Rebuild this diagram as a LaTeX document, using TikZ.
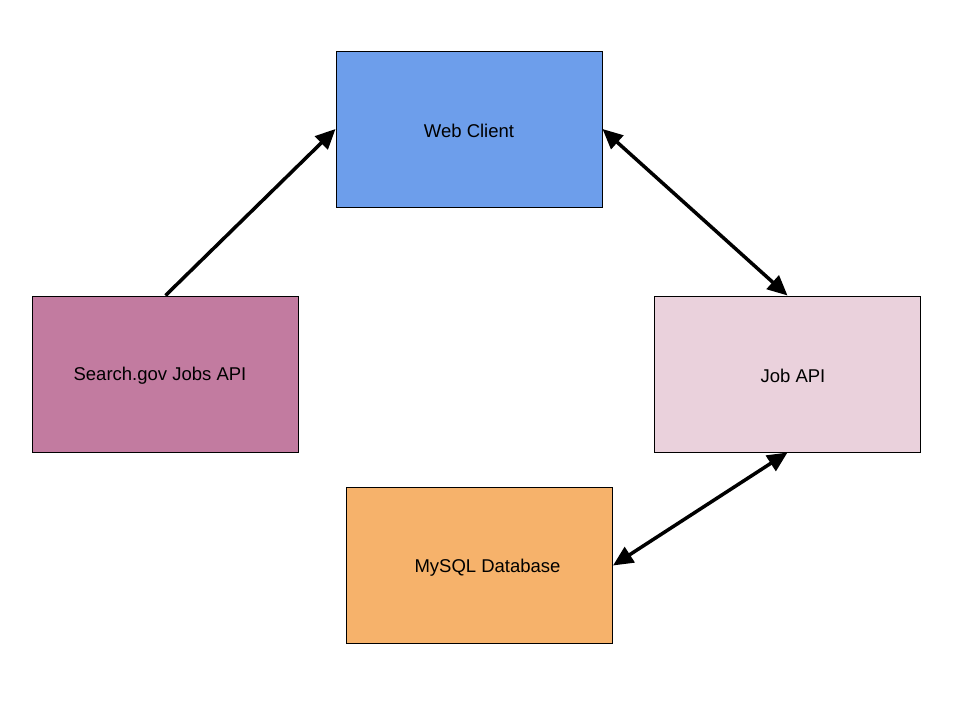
\documentclass[tikz,border=0pt]{standalone}
\usepackage{fontspec}
\setmainfont{Liberation Sans}
\usetikzlibrary{arrows.meta}
\definecolor{webblue}{HTML}{6D9EEB}
\definecolor{searchpink}{HTML}{C27BA0}
\definecolor{jobpink}{HTML}{EAD1DC}
\definecolor{sqlorange}{HTML}{F6B26B}
\newcommand{\lowtext}[1]{\raisebox{-2pt}[\height][\depth]{#1}}
\begin{document}
\begin{tikzpicture}[x=1pt,y=-1pt,
  box/.style={draw=black, line width=1pt, minimum width=266pt, minimum height=156pt, inner sep=0pt, font=\fontsize{18.5}{22}\selectfont},
  conn/.style={line width=3.5pt, -{Triangle[length=20pt,width=18pt]}},
  biconn/.style={line width=3.5pt, {Triangle[length=20pt,width=18pt]}-{Triangle[length=20pt,width=18pt]}}]
\useasboundingbox[fill=white] (0,0) rectangle (960,720);
\node[box, fill=webblue] (web) at (469,129) {\lowtext{Web Client}};
\node[box, fill=searchpink] (search) at (165.5,374) {\lowtext{Search.gov Jobs API}\hspace*{11pt}};
\node[box, fill=jobpink] (job) at (787.5,374) {\hspace*{11pt}\lowtext{Job API}};
\node[box, fill=sqlorange] (sql) at (479.5,565.5) {\hspace*{16pt}\lowtext{MySQL Database}};
\draw[conn] (search.north) -- (web.west);
\draw[biconn] (web.east) -- (job.north);
\draw[biconn] (job.south) -- (sql.east);
\end{tikzpicture}
\end{document}
